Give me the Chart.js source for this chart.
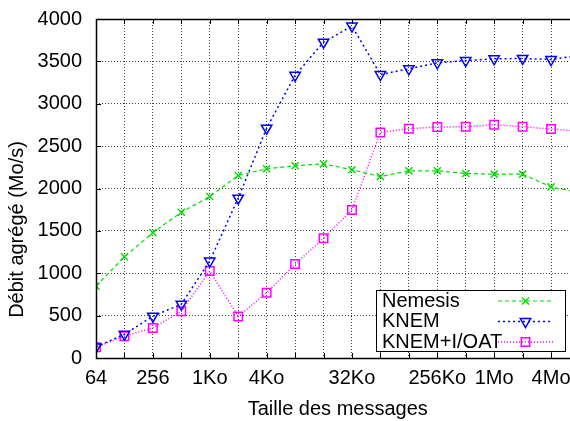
<!DOCTYPE html>
<html>
<head>
<meta charset="utf-8">
<script src="https://cdn.jsdelivr.net/npm/chart.js@4.4.1/dist/chart.umd.min.js"></script>
<style>
    html, body { margin: 0; padding: 0; overflow: hidden; background: #fff; }
    #wrap { width: 600px; height: 421px; }
</style>
</head>
<body>
<div id="wrap"><canvas id="chart" width="600" height="421"></canvas></div>
<script>
// message sizes in bytes (x axis is log2)
const messageSizes = [64, 128, 256, 512, 1024, 2048, 4096, 8192, 16384, 32768, 65536,
    131072, 262144, 524288, 1048576, 2097152, 4194304, 8388608];

// aggregated throughput, Mo/s
const nemesis   = [848, 1195, 1479, 1720, 1905, 2154, 2233, 2268, 2291, 2221, 2141, 2209, 2209, 2177, 2169, 2169, 2019, 1950];
const knem      = [130, 280, 493, 635, 1144, 1886, 2712, 3336, 3727, 3916, 3345, 3412, 3483, 3510, 3530, 3534, 3522, 3570];
const knemIoat  = [127, 257, 355, 553, 1026, 490, 769, 1108, 1412, 1747, 2662, 2706, 2725, 2729, 2753, 2729, 2702, 2675];

const seriesLabels = ['Nemesis', 'KNEM', 'KNEM+I/OAT'];
const tickSizes  = [64, 256, 1024, 4096, 32768, 262144, 1048576, 4194304];
const tickLabels = ['64', '256', '1Ko', '4Ko', '32Ko', '256Ko', '1Mo', '4Mo'];
const yMin = 0, yMax = 4000, yStep = 500;
const yTitle = 'Débit agrégé (Mo/s)';

const FONT = 'Liberation Sans, Arial, Helvetica, sans-serif';
const FONT_SIZE = 20;

function toPoints(values) {
    return values.map((v, i) => ({ x: Math.log2(messageSizes[i]), y: v }));
}

const styles = [
    { color: '#00e000', dash: [4, 3], width: 1.2, pointStyle: 'crossRot', radius: 5, rotation: 0 },
    { color: '#0000ff', dash: [2, 3], width: 1.5, pointStyle: 'triangle', radius: 6, rotation: 180 },
    { color: '#ff00ff', dash: [1, 2], width: 1.5, pointStyle: 'rect', radius: 6, rotation: 0 }
];

const seriesData = [nemesis, knem, knemIoat];

const datasets = seriesData.map((values, i) => ({
    label: seriesLabels[i],
    data: toPoints(values),
    borderColor: styles[i].color,
    backgroundColor: 'rgba(0,0,0,0)',
    borderDash: styles[i].dash,
    borderWidth: styles[i].width,
    pointStyle: styles[i].pointStyle,
    pointRotation: styles[i].rotation,
    pointRadius: styles[i].radius,
    pointBorderWidth: 1.5,
    pointBorderColor: styles[i].color,
    pointBackgroundColor: 'rgba(0,0,0,0)',
    tension: 0
}));

// inward tick marks, frame, y title and gnuplot-like legend
const framePlugin = {
    id: 'frame',
    afterDraw(chart) {
        const ctx = chart.ctx;
        const area = chart.chartArea;
        const xs = chart.scales.x;
        const ys = chart.scales.y;
        ctx.save();
        ctx.strokeStyle = '#000';
        ctx.lineWidth = 1;
        ctx.setLineDash([]);
        ctx.beginPath();
        for (let i = 0; i < messageSizes.length; i++) {
            const px = Math.round(xs.getPixelForValue(Math.log2(messageSizes[i]))) + 0.5;
            ctx.moveTo(px, area.bottom); ctx.lineTo(px, area.bottom - 5);
            ctx.moveTo(px, area.top); ctx.lineTo(px, area.top + 5);
        }
        for (let v = yMin; v <= yMax; v += yStep) {
            const py = Math.round(ys.getPixelForValue(v)) + 0.5;
            ctx.moveTo(area.left, py); ctx.lineTo(area.left + 5, py);
        }
        ctx.stroke();

        ctx.lineWidth = 1.5;
        ctx.strokeRect(Math.round(area.left) + 0.5, Math.round(area.top) + 0.5,
            area.right - area.left, area.bottom - area.top);

        // y axis title (gnuplot puts it lower than the plot centre)
        ctx.font = FONT_SIZE + 'px ' + FONT;
        ctx.fillStyle = '#000';
        ctx.save();
        ctx.translate(17, 229.5);
        ctx.rotate(-Math.PI / 2);
        ctx.textAlign = 'center';
        ctx.textBaseline = 'middle';
        ctx.fillText(yTitle, 0, 0);
        ctx.restore();

        // legend box
        const box = { left: 376.5, top: 290.5, right: 565.5, bottom: 351.5 };
        ctx.fillStyle = '#fff';
        ctx.fillRect(box.left, box.top, box.right - box.left, box.bottom - box.top);
        ctx.lineWidth = 1;
        ctx.strokeRect(box.left, box.top, box.right - box.left, box.bottom - box.top);

        const rows = [301, 321.5, 342];
        ctx.textBaseline = 'middle';
        ctx.textAlign = 'left';
        rows.forEach((ry, i) => {
            const st = styles[i];
            ctx.fillStyle = '#000';
            ctx.fillText(seriesLabels[i], 382, ry);
            ctx.strokeStyle = st.color;
            ctx.lineWidth = st.width;
            ctx.setLineDash(st.dash);
            ctx.beginPath();
            ctx.moveTo(498, ry); ctx.lineTo(553, ry);
            ctx.stroke();
            ctx.setLineDash([]);
            ctx.lineWidth = 1.5;
            ctx.fillStyle = 'rgba(0,0,0,0)';
            Chart.helpers.drawPoint(ctx, {
                pointStyle: st.pointStyle, rotation: st.rotation, radius: st.radius, borderWidth: 1.5
            }, 525.5, ry);
        });
        ctx.restore();
    }
};

new Chart(document.getElementById('chart'), {
    type: 'line',
    data: { datasets: datasets },
    plugins: [framePlugin],
    options: {
        responsive: false,
        animation: false,
        events: [],
        layout: { padding: { left: 0, right: 20.5, top: 19, bottom: 0 } },
        plugins: {
            legend: { display: false },
            tooltip: { enabled: false }
        },
        scales: {
            x: {
                type: 'linear',
                min: Math.log2(messageSizes[0]),
                max: Math.log2(messageSizes[messageSizes.length - 1]),
                afterFit(scale) { scale.height = 63; },
                afterBuildTicks(scale) {
                    scale.ticks = messageSizes.map(s => ({ value: Math.log2(s) }));
                },
                ticks: {
                    autoSkip: false,
                    maxRotation: 0,
                    padding: 8,
                    color: '#000',
                    font: { family: FONT, size: FONT_SIZE },
                    callback(value) {
                        const idx = tickSizes.indexOf(Math.pow(2, value));
                        return idx >= 0 ? tickLabels[idx] : '';
                    }
                },
                grid: {
                    drawTicks: false,
                    color: 'rgba(0,0,0,0.75)',
                    lineWidth: 1
                },
                border: { display: false, dash: [1, 2] },
                title: {
                    display: true,
                    text: 'Taille des messages',
                    color: '#000',
                    font: { family: FONT, size: FONT_SIZE },
                    padding: { top: 0, bottom: 0 }
                }
            },
            y: {
                min: yMin,
                max: yMax,
                afterFit(scale) { scale.width = 96; },
                ticks: {
                    stepSize: yStep,
                    padding: 0,
                    color: '#000',
                    font: { family: FONT, size: FONT_SIZE },
                    callback: (value) => String(value)
                },
                grid: {
                    drawTicks: true,
                    tickLength: 14,
                    tickColor: 'rgba(0,0,0,0)',
                    color: 'rgba(0,0,0,0.75)',
                    lineWidth: 1
                },
                border: { display: false, dash: [1, 2] }
            }
        }
    }
});
</script>
</body>
</html>
